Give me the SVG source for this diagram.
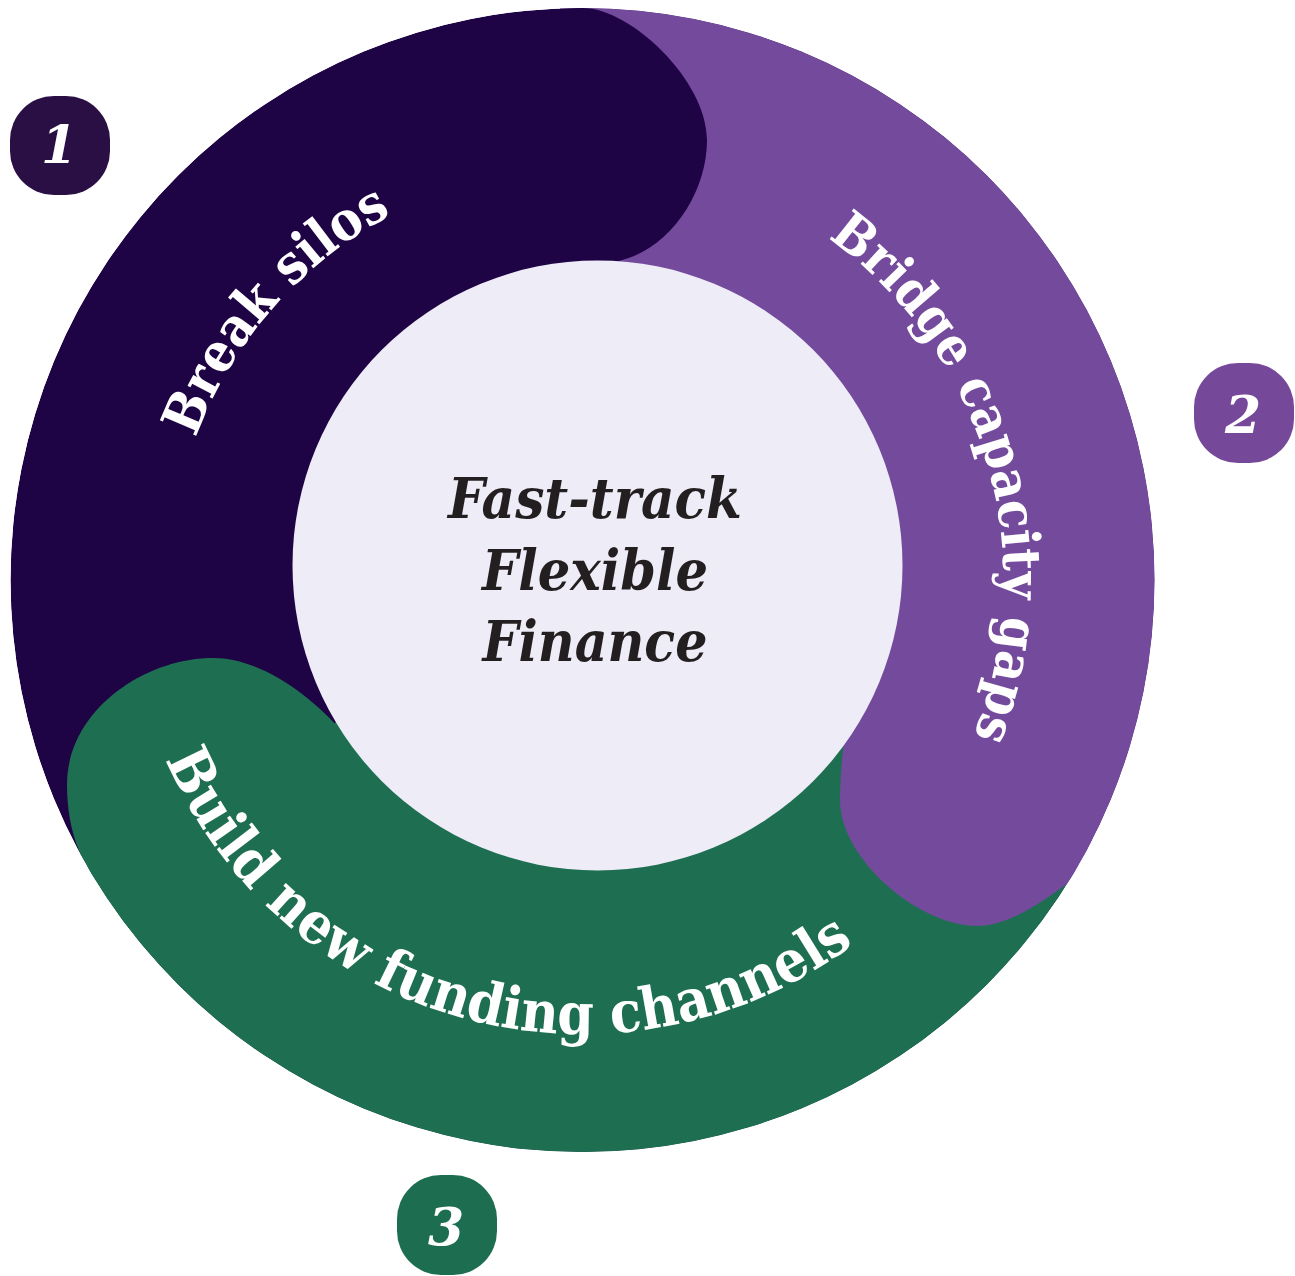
<svg xmlns="http://www.w3.org/2000/svg" width="1295" height="1276" viewBox="0 0 1295 1276">
<defs>
<style>
.dark{fill:#1e0445}
.purple{fill:#744a9c}
.green{fill:#1e6f52}
.inner{fill:#eeecf6}
.label{font-family:"DejaVu Serif Condensed","DejaVu Serif",serif;font-stretch:condensed;font-weight:bold;fill:#ffffff}
.center{font-family:"DejaVu Serif Condensed","DejaVu Serif",serif;font-stretch:condensed;font-weight:bold;font-style:italic;fill:#231f20;font-size:56px;text-anchor:middle}
.num{font-family:"DejaVu Serif",serif;font-weight:bold;font-style:italic;fill:#ffffff;font-size:52px;text-anchor:middle}
</style>
<clipPath id="ringClip"><circle cx="582.5" cy="580" r="572"/></clipPath>
<path id="arc1" d="M 192.3 712.1 A 412 412 0 0 1 663.2 176.0"/>
<path id="arc2" d="M 609.7 159.9 A 421 421 0 0 1 831.7 919.3"/>
<path id="arc3" d="M 128.5 580 A 454 454 0 0 0 975.7 807"/>
</defs>
<rect width="1295" height="1276" fill="#ffffff"/>
<g id="ring" clip-path="url(#ringClip)">
  <g id="bodies">
    <circle id="seg1-body" class="dark" cx="582.5" cy="580" r="572"/>
    <path id="seg2-body" class="purple" d="M 582.5 580 L 582.5 -420 L 1289.6 -127.1 L 1582.5 580 L 1439.7 1095 Z"/>
    <path id="seg3-body" class="green" d="M 582.5 580 L 1439.7 1095 L 924.5 1519.7 L 240.5 1519.7 L -283.5 1080 Z"/>
  </g>
  <g id="heads">
    <path id="seg1-head" class="dark" d="M 583 8 C 630 8 707 80 707 140 C 707 200 660 263 600 263 L 560 270 L 560 0 Z"/>
    <path id="seg2-head" class="purple" d="M 1072 880 C 1045 900 1010 926 977 926 C 920 926 840 860 840 800 C 840 780 842 755 845 735 L 870 700 L 1110 850 Z"/>
    <path id="seg3-head" class="green" d="M 80 853 C 70 830 67 805 67 785 C 67 710 145 658 213 658 C 255 658 305 688 345 735 L 370 760 L 150 960 L 40 900 Z"/>
  </g>
</g>
<g id="center">
  <circle class="inner" cx="597.5" cy="565.5" r="305"/>
  <text class="center" x="595" y="518" textLength="294" lengthAdjust="spacingAndGlyphs">Fast-track</text>
  <text class="center" x="595" y="590" textLength="226" lengthAdjust="spacingAndGlyphs">Flexible</text>
  <text class="center" x="595" y="661" textLength="225" lengthAdjust="spacingAndGlyphs">Finance</text>
</g>
<g id="labels">
  <text id="label1" class="label" font-size="54"><textPath href="#arc1" startOffset="50%" text-anchor="middle">Break silos</textPath></text>
  <text id="label2" class="label" font-size="53"><textPath href="#arc2" startOffset="50%" text-anchor="middle">Bridge capacity gaps</textPath></text>
  <text id="label3" class="label" font-size="58"><textPath href="#arc3" startOffset="50%" text-anchor="middle">Build new funding channels</textPath></text>
</g>
<g id="connectors"/>
<g id="badge1">
  <rect x="10" y="96" width="100" height="99" rx="44" fill="#2a0f45"/>
  <text class="num" x="59" y="163">1</text>
</g>
<g id="badge2">
  <rect x="1194" y="363" width="100" height="100" rx="44" fill="#76489a"/>
  <text class="num" x="1243" y="433">2</text>
</g>
<g id="badge3">
  <rect x="397" y="1175" width="100" height="100" rx="44" fill="#1d6e51"/>
  <text class="num" x="446" y="1245">3</text>
</g>
</svg>
